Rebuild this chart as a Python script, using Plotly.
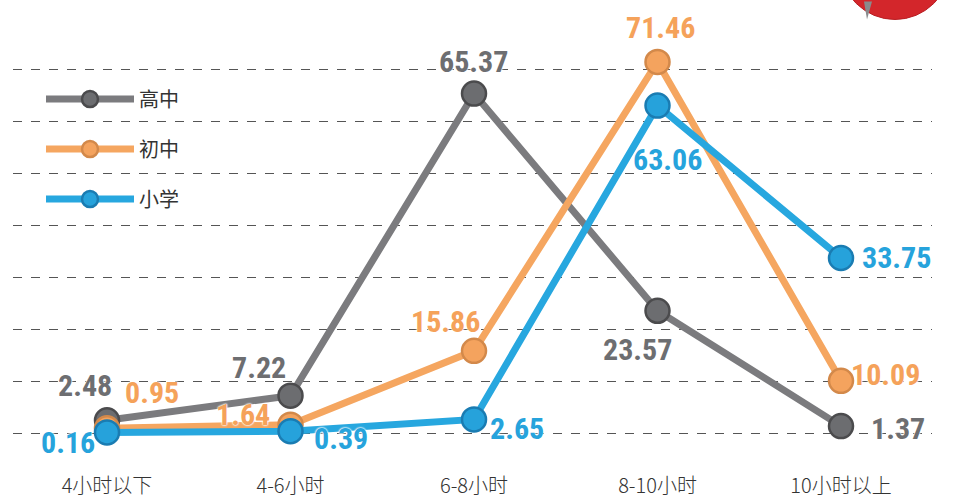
import plotly.graph_objects as go

categories = ["4小时以下", "4-6小时", "6-8小时", "8-10小时", "10小时以上"]
series_names = ["高中", "初中", "小学"]
gaozhong = [2.48, 7.22, 65.37, 23.57, 1.37]
chuzhong = [0.95, 1.64, 15.86, 71.46, 10.09]
xiaoxue = [0.16, 0.39, 2.65, 63.06, 33.75]
y_ticks = [0, 10, 20, 30, 40, 50, 60, 70]

series_values = [gaozhong, chuzhong, xiaoxue]
line_colors = ["#7b7b7e", "#f5a660", "#27a7df"]
marker_fill = ["#6c6d70", "#f4a35e", "#26a2db"]
marker_edge = ["#4b4b4d", "#d3894a", "#1a7cb2"]
label_colors = ["#6d6e71", "#f5a25a", "#26a3dc"]

# label offsets in pixels (xshift, yshift) per series per point
label_shifts = [
    [(-22, 35), (-32, 28), (-1, 32), (-20, -39), (57, -2)],
    [(45, 36), (-48, 10), (-29, 29), (3, 34), (44, 6)],
    [(-39, -10), (50, -7), (43, -9), (10, -54), (55, 0)],
]

x_idx = list(range(len(categories)))
label_font = "Roboto Condensed, Liberation Sans Narrow, DejaVu Sans Condensed, Roboto, sans-serif"
cjk_font = "Noto Sans CJK SC, Noto Sans, sans-serif"

W, H = 973, 501
PL, PR = 13, 932          # plot area left/right in px
Y0_PX, PPU = 433, 5.186   # pixel of y=0 and pixels per unit
Y_RANGE = [-4, 78]
top_px = Y0_PX - Y_RANGE[1] * PPU
bot_px = Y0_PX - Y_RANGE[0] * PPU

fig = go.Figure()
for k, (name, vals) in enumerate(zip(series_names, series_values)):
    fig.add_trace(go.Scatter(
        x=x_idx, y=vals, name=name, mode="lines+markers",
        legendgroup=name,
        line=dict(color=line_colors[k], width=7),
        marker=dict(size=24, color=marker_fill[k], line=dict(color=marker_edge[k], width=2.5)),
        cliponaxis=False,
    ))

annotations = []
for k, vals in enumerate(series_values):
    for i, v in enumerate(vals):
        xs, ys = label_shifts[k][i]
        annotations.append(dict(
            x=x_idx[i], y=v, xref="x", yref="y", text=f"{v:.2f}", showarrow=False,
            xshift=xs, yshift=ys,
            font=dict(family=label_font, size=30, color=label_colors[k], weight="bold",
                      shadow="0 0 2px #fff, 0 0 2px #fff, 0 0 2px #fff"),
        ))

def px_x(p):
    return (p - PL) / (PR - PL)

def px_y(p):
    return (bot_px - p) / (bot_px - top_px)

shapes = [
    dict(type="circle", xref="paper", yref="paper", layer="above",
         x0=px_x(840), x1=px_x(950), y0=px_y(20), y1=px_y(-90),
         fillcolor="#d3262b", line=dict(color="#b81d22", width=1)),
    dict(type="path", xref="paper", yref="paper", layer="above",
         path="M {a},{b} L {c},{d} L {e},{f} Z".format(
             a=px_x(864), b=px_y(2), c=px_x(872), d=px_y(2), e=px_x(867), f=px_y(20)),
         fillcolor="#8a8a8c", line=dict(width=0)),
]

fig.update_layout(
    width=W, height=H,
    margin=dict(l=PL, r=W - PR, t=top_px, b=H - bot_px, autoexpand=False),
    paper_bgcolor="white", plot_bgcolor="white",
    showlegend=True,
    legend=dict(x=px_x(41), y=px_y(80), xanchor="left", yanchor="top",
                bgcolor="rgba(0,0,0,0)", font=dict(family=cjk_font, size=20, color="#333"),
                tracegroupgap=21, itemwidth=88),
    xaxis=dict(range=[(PL - 107) / 183.5, (PR - 107) / 183.5], tickmode="array",
               tickvals=x_idx, ticktext=categories,
               showgrid=False, zeroline=False, showline=False, ticks="",
               tickfont=dict(family=cjk_font, size=20, color="#333", weight=300),
               ticklabelstandoff=18, automargin=False),
    yaxis=dict(range=Y_RANGE, tickmode="array", tickvals=y_ticks, showticklabels=False,
               showgrid=True, gridcolor="#555", gridwidth=1.3, griddash="dash",
               zeroline=False, showline=False, automargin=False),
    annotations=annotations,
    shapes=shapes,
)

fig.write_html("out.html", config={"displayModeBar": False},
               post_script="document.body.style.margin='0';")
